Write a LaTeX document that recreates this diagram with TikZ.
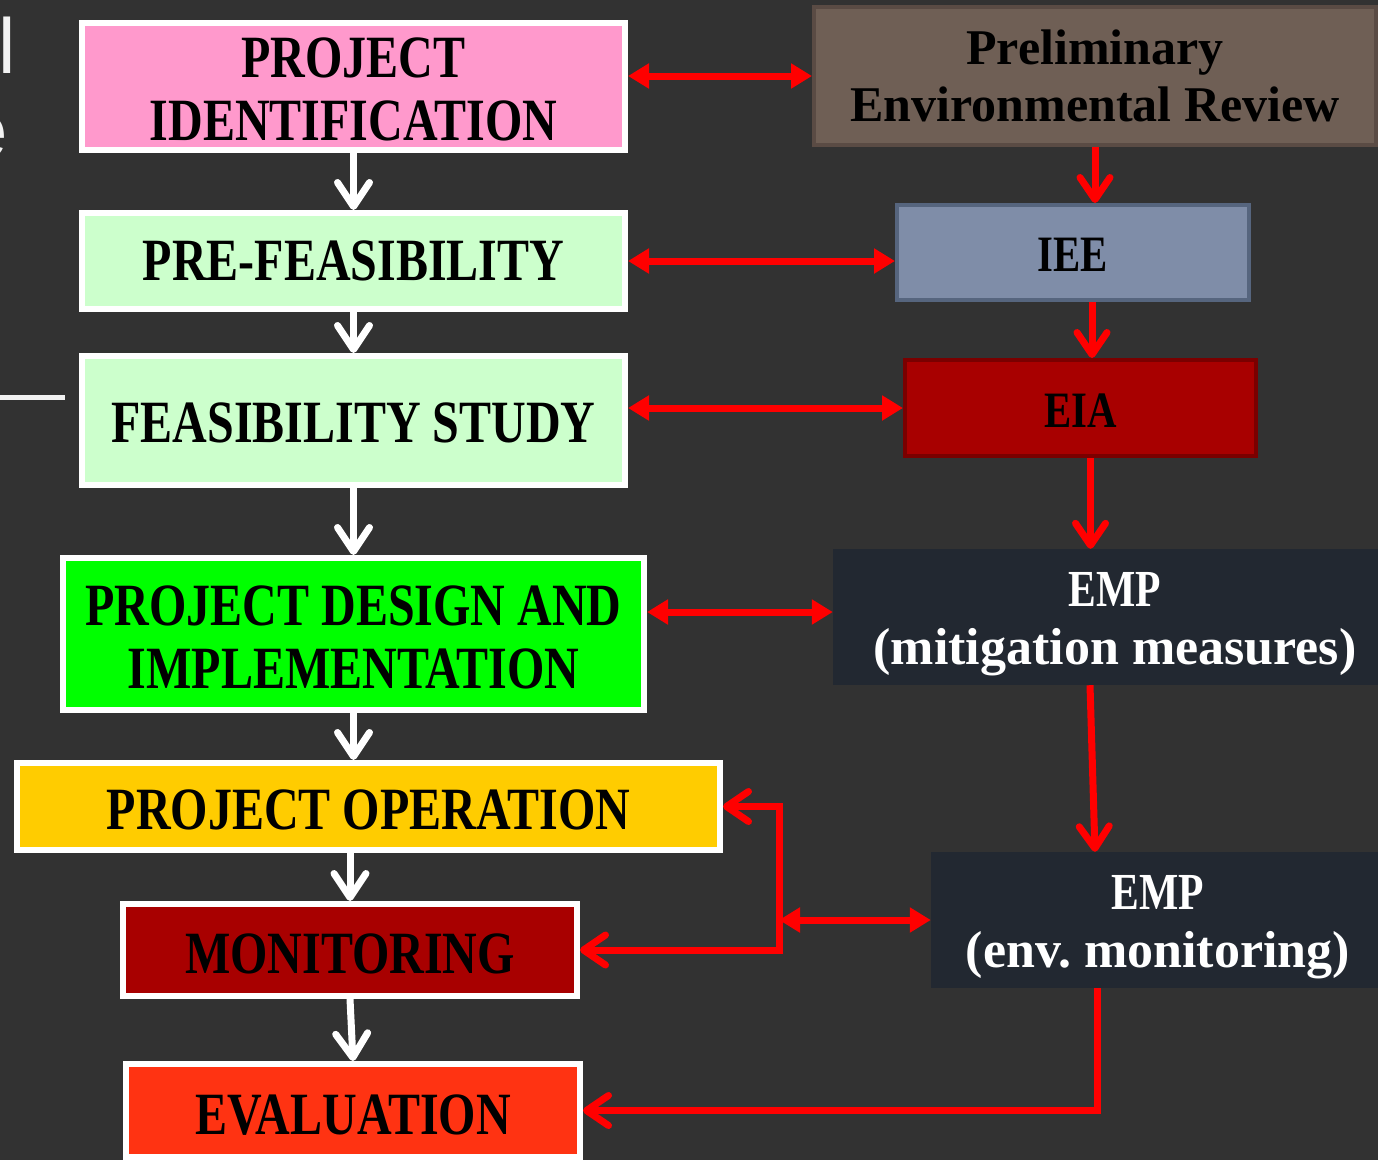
\documentclass[tikz,border=0pt]{standalone}
\usepackage{fontspec}
\setmainfont{Liberation Serif}
\newfontfamily\capfont[FakeStretch=0.8]{Liberation Serif}
\newfontfamily\titlefont{Liberation Sans}
\usetikzlibrary{arrows.meta,calc,positioning}

\definecolor{slidebg}{HTML}{323232}
\definecolor{pinkbox}{HTML}{FF99CC}
\definecolor{mintbox}{HTML}{CCFFCC}
\definecolor{limebox}{HTML}{00FF00}
\definecolor{goldbox}{HTML}{FFCC00}
\definecolor{maroonbox}{HTML}{A80000}
\definecolor{maroonedge}{HTML}{7A0000}
\definecolor{orangebox}{HTML}{FF3312}
\definecolor{brownbox}{HTML}{6F5F55}
\definecolor{brownedge}{HTML}{5A4B44}
\definecolor{slatebox}{HTML}{7F8DA8}
\definecolor{slateedge}{HTML}{56657E}
\definecolor{navybox}{HTML}{222831}

\tikzset{
  stage/.style={draw=white, line width=6pt, inner sep=0pt, align=center,
    text=black, font=\capfont\bfseries\fontsize{60}{63}\selectfont},
  envbox/.style={line width=4pt, inner sep=0pt, align=center,
    text=black, font=\bfseries\fontsize{50}{57}\selectfont},
  empbox/.style={fill=navybox, inner sep=0pt, align=center,
    text=white, font=\bfseries\fontsize{52}{58}\selectfont},
  flowarrow/.style={draw=white, line width=7pt,
    -{Straight Barb[length=24pt,width=32pt,round]}},
  downarrow/.style={draw=red, line width=7pt,
    -{Straight Barb[length=22pt,width=30pt,round]}},
  twoway/.style={draw=red, line width=7pt,
    {Triangle[length=21pt,width=24pt]}-{Triangle[length=21pt,width=24pt]}},
  backarrow/.style={draw=red, line width=7pt,
    {Straight Barb[length=22pt,width=30pt,round]}-{Straight Barb[length=22pt,width=30pt,round]}}
}
\newcommand{\toppad}{\rule{0pt}{48pt}}

\begin{document}
\frenchspacing
\begin{tikzpicture}[x=1pt,y=-1pt]

\useasboundingbox (0,0) rectangle (1378,1160);
\clip (0,0) rectangle (1378,1160);
\fill[slidebg] (0,0) rectangle (1378,1160);

% cut-off slide title at the left edge
\node[anchor=base east, inner sep=0pt, text=white!95!black,
  font=\titlefont\fontsize{78}{84}\selectfont] (titleA) at (16,73) {al};
\node[anchor=base east, inner sep=0pt, text=white!95!black,
  font=\titlefont\fontsize{78}{84}\selectfont] (titleB) at (8,157) {e};
\draw[white!95!black, line width=5pt] (0,397.5) -- (65,397.5);

% project cycle (left column)
\node[stage, fill=pinkbox, minimum width=543, minimum height=127] (ident) at (353.5,86.5) {\rule{0pt}{46pt}PROJECT\\IDENTIFICATION};
\node[stage, fill=mintbox, minimum width=543, minimum height=96] (prefeas) at (353.5,261) {PRE-FEASIBILITY};
\node[stage, fill=mintbox, minimum width=543, minimum height=129] (feas) at (353.5,420.5) {\rule{0pt}{44pt}FEASIBILITY STUDY};
\node[stage, fill=limebox, minimum width=581, minimum height=152] (design) at (353.5,634) {\rule{0pt}{46pt}PROJECT DESIGN AND\\IMPLEMENTATION};
\node[stage, fill=goldbox, minimum width=703, minimum height=87] (operation) at (368.5,806.5) {\rule{0pt}{46pt}PROJECT OPERATION};
\node[stage, fill=maroonbox, minimum width=454, minimum height=92] (monitor) at (350,950) {\rule{0pt}{48pt}MONITORING};
\node[stage, fill=orangebox, minimum width=454, minimum height=93] (eval) at (353,1110.5) {\rule{0pt}{48pt}EVALUATION};

% environmental steps (right column)
\node[envbox, draw=brownedge, fill=brownbox, minimum width=562, minimum height=138] (review) at (1095,76) {Preliminary\\Environmental Review};
\node[envbox, draw=slateedge, fill=slatebox, minimum width=352, minimum height=95,
  font=\capfont\bfseries\fontsize{51}{58}\selectfont] (iee) at (1073,252.5) {\rule{0pt}{38pt}IEE};
\node[envbox, draw=maroonedge, fill=maroonbox, minimum width=351, minimum height=96,
  font=\capfont\bfseries\fontsize{51}{58}\selectfont] (eia) at (1080.5,408) {\rule{0pt}{38pt}EIA};
\node[empbox, minimum width=564, minimum height=136] (empmit) at (1115,617) {\toppad{\capfont EMP}\\(mitigation measures)};
\node[empbox, minimum width=454, minimum height=136] (empmon) at (1158,920) {\toppad{\capfont EMP}\\(env. monitoring)};

% white flow
\draw[flowarrow] (ident) -- (prefeas);
\draw[flowarrow] (prefeas) -- (feas);
\draw[flowarrow] (feas) -- (design);
\draw[flowarrow] (design.south) -- (design.south |- operation.north);
\draw[flowarrow] (monitor.north |- operation.south) -- (monitor.north);
\draw[flowarrow] (monitor.south) -- (eval.north);

% red links
\draw[twoway] (ident.east |- review.west) -- (review.west);
\draw[downarrow] (review.south) -- (review.south |- iee.north);
\draw[twoway] (prefeas.east) -- (prefeas.east -| iee.west);
\draw[downarrow] ([xshift=19pt]iee.south) -- ([xshift=19pt]iee.south |- eia.north);
\draw[twoway] (feas.east |- eia.west) -- (eia.west);
\draw[downarrow] ([xshift=10pt]eia.south) -- ([xshift=10pt]eia.south |- empmit.north);
\draw[twoway] ([yshift=5pt]design.east |- empmit.west) -- ([yshift=5pt]empmit.west);
\draw[downarrow] ([xshift=-25pt]empmit.south) -- ([xshift=-63pt]empmon.north);

\coordinate (fork) at (779,920);
\draw[twoway] (fork) -- (empmon.west);
\draw[backarrow] (operation.east) -- (fork |- operation.east) -- (fork |- monitor.east) -- (monitor.east);
\draw[downarrow] ([xshift=-61pt]empmon.south) |- (eval.east);

\end{tikzpicture}
\end{document}
